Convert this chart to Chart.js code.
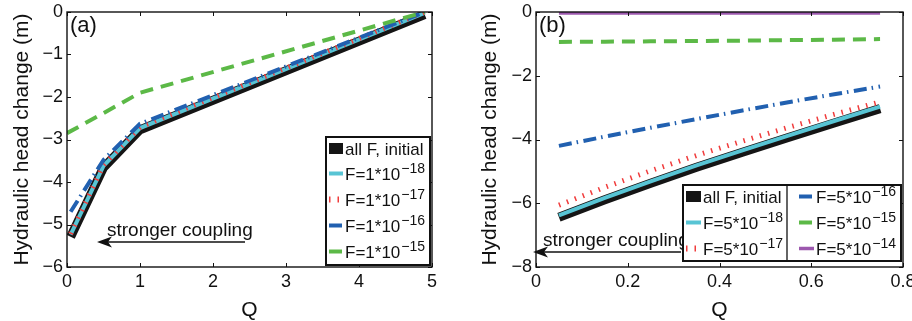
<!DOCTYPE html>
<html>
<head>
<meta charset="utf-8">
<script src="https://cdn.jsdelivr.net/npm/chart.js@4.4.0/dist/chart.umd.min.js"></script>
<style>
  body { margin: 0; background: #fff; }
  #wrapA { position: absolute; left: 0; top: 0; width: 460px; height: 321px; }
  #wrapB { position: absolute; left: 460px; top: 0; width: 452px; height: 321px; }
</style>
</head>
<body>
<div id="wrapA"><canvas id="chartA" width="460" height="321"></canvas></div>
<div id="wrapB"><canvas id="chartB" width="452" height="321"></canvas></div>
<script>
// panel (a): head change vs Q
const qA = [0.05, 0.5, 1, 4.9];
const qAGreen = [0, 0.5, 1, 4.9];
const headAInitial = [-5.29, -3.66, -2.77, -0.06];
const headA18 = [-5.24, -3.62, -2.73, -0.02];
const headA17 = [-5.22, -3.6, -2.71, 0];
const headA16 = [-4.7, -3.48, -2.63, 0];
const headA15 = [-2.85, -2.38, -1.9, 0];
const legendA = ["all F, initial", "F=1*10^\u221218", "F=1*10^\u221217", "F=1*10^\u221216", "F=1*10^\u221215"];

// panel (b)
const qB = [0.05, 0.15, 0.25, 0.35, 0.45, 0.55, 0.65, 0.75];
const headBInitial = [-6.44, -5.89, -5.37, -4.87, -4.4, -3.94, -3.48, -3.03];
const headB18 = [-6.38, -5.83, -5.31, -4.81, -4.34, -3.88, -3.42, -2.97];
const headB17 = [-6.06, -5.5, -4.98, -4.5, -4.05, -3.62, -3.21, -2.82];
const headB16 = [-4.2, -3.91, -3.63, -3.36, -3.09, -2.83, -2.58, -2.34];
const headB15 = [-0.94, -0.93, -0.92, -0.91, -0.9, -0.88, -0.87, -0.85];
const headB14 = [-0.03, -0.03, -0.03, -0.03, -0.03, -0.03, -0.03, -0.03];
const legendB = ["all F, initial", "F=5*10^\u221218", "F=5*10^\u221217", "F=5*10^\u221216", "F=5*10^\u221215", "F=5*10^\u221214"];

const FONT = '"Liberation Sans", Arial, sans-serif';
Chart.defaults.font.family = FONT;
Chart.defaults.color = "#111";

const pts = (xs, ys) => xs.map((x, i) => ({ x: x, y: ys[i] }));
const minus = v => (v < 0 ? "\u2212" + Math.abs(v) : String(v));

const styles = {
  black: { borderColor: "#151515", borderWidth: 9, legendWidth: 11 },
  cyan: { borderColor: "#58c4d4", borderWidth: 4 },
  red: { borderColor: "#f03c3c", borderWidth: 5, borderDash: [1.5, 7], legendWidth: 6 },
  blue: { borderColor: "#2160b0", borderWidth: 4, borderDash: [13, 5, 1.5, 5.5] },
  green: { borderColor: "#5cb947", borderWidth: 4, borderDash: [13, 8] },
  purple: { borderColor: "#9c58ae", borderWidth: 3.5 }
};

function line(data, st, order) {
  return Object.assign({ data: data, pointRadius: 0, tension: 0, fill: false,
    borderCapStyle: "butt", order: order }, st);
}

const decor = {
  id: "decor",
  afterDatasetsDraw(chart, args, o) {
    const { ctx, chartArea: a, scales: { x, y } } = chart;
    ctx.save();
    ctx.strokeStyle = "#111";
    ctx.lineWidth = 1;
    ctx.beginPath();
    x.ticks.forEach(t => {
      const px = Math.round(x.getPixelForValue(t.value)) + 0.5;
      ctx.moveTo(px, a.bottom); ctx.lineTo(px, a.bottom - 4);
      ctx.moveTo(px, a.top); ctx.lineTo(px, a.top + 4);
    });
    y.ticks.forEach(t => {
      const py = Math.round(y.getPixelForValue(t.value)) + 0.5;
      ctx.moveTo(a.left, py); ctx.lineTo(a.left + 4, py);
      ctx.moveTo(a.right, py); ctx.lineTo(a.right - 4, py);
    });
    ctx.stroke();
    ctx.lineWidth = 1.4;
    ctx.strokeRect(a.left, a.top, a.right - a.left, a.bottom - a.top);

    // panel letter
    ctx.fillStyle = "#111";
    ctx.font = "22px " + FONT;
    ctx.textBaseline = "alphabetic";
    ctx.fillText(o.letter.text, o.letter.x, o.letter.y);

    // arrow + text
    ctx.font = "19px " + FONT;
    ctx.fillText("stronger coupling", o.arrow.tx, o.arrow.ty);
    ctx.lineWidth = 1.3;
    ctx.beginPath();
    ctx.moveTo(o.arrow.x1, o.arrow.y);
    ctx.lineTo(o.arrow.x2 + 10, o.arrow.y);
    ctx.stroke();
    ctx.beginPath();
    ctx.moveTo(o.arrow.x2, o.arrow.y);
    ctx.lineTo(o.arrow.x2 + 15, o.arrow.y - 5.5);
    ctx.lineTo(o.arrow.x2 + 11, o.arrow.y);
    ctx.lineTo(o.arrow.x2 + 15, o.arrow.y + 5.5);
    ctx.closePath();
    ctx.fill();

    // legend
    const L = o.legend;
    ctx.fillStyle = "#fff";
    ctx.fillRect(L.x, L.y, L.w, L.h);
    ctx.strokeStyle = "#111";
    ctx.lineWidth = 2;
    ctx.strokeRect(L.x, L.y, L.w, L.h);
    if (L.divider) {
      ctx.lineWidth = 1.3;
      ctx.beginPath();
      ctx.moveTo(L.divider, L.y); ctx.lineTo(L.divider, L.y + L.h);
      ctx.stroke();
    }
    chart.data.datasets.forEach((ds, i) => {
      const col = L.cols[Math.floor(i / L.rows.length)];
      const base = L.rows[i % L.rows.length];
      const sy = base - 6.5;
      ctx.save();
      ctx.beginPath();
      ctx.setLineDash(ds.borderDash || []);
      ctx.lineCap = "butt";
      ctx.strokeStyle = ds.borderColor;
      ctx.lineWidth = ds.legendWidth || ds.borderWidth;
      ctx.moveTo(col.sx, sy); ctx.lineTo(col.sx + L.sample, sy);
      ctx.stroke();
      ctx.restore();
      const parts = L.labels[i].split("^");
      ctx.fillStyle = "#111";
      ctx.font = "17px " + FONT;
      ctx.fillText(parts[0], col.tx, base);
      if (parts[1]) {
        const w = ctx.measureText(parts[0]).width;
        ctx.font = "14px " + FONT;
        ctx.fillText(parts[1], col.tx + w + 1, base - 7.5);
      }
    });
    ctx.restore();
  }
};

function makeOptions(xMin, xMax, xStep, yMin, yMax, yStep, yWidth, yTitlePad, padRight, xFmt, deco) {
  return {
    responsive: false,
    animation: false,
    layout: { padding: { left: 0, right: padRight, top: 12, bottom: 0 } },
    plugins: { legend: { display: false }, tooltip: { enabled: false }, decor: deco },
    scales: {
      x: {
        type: "linear", min: xMin, max: xMax,
        grid: { display: false, drawTicks: false },
        border: { display: false },
        ticks: { stepSize: xStep, autoSkip: false, maxRotation: 0, padding: 4,
          font: { size: 18 }, color: "#111", callback: xFmt },
        title: { display: true, text: "Q", font: { size: 21, lineHeight: 1 },
          padding: { top: 0, bottom: 0.5 }, color: "#111" },
        afterFit: s => { s.height = 54; s.paddingLeft = 0; s.paddingRight = 0; }
      },
      y: {
        min: yMin, max: yMax,
        grid: { display: false, drawTicks: false },
        border: { display: false },
        ticks: { stepSize: yStep, autoSkip: false, padding: 4,
          font: { size: 18 }, color: "#111", callback: v => minus(v) },
        title: { display: true, text: "Hydraulic head change (m)", font: { size: 21, lineHeight: 1.2 },
          padding: { top: yTitlePad, bottom: 0 }, color: "#111" },
        afterFit: s => { s.width = yWidth; s.paddingTop = 0; s.paddingBottom = 0; }
      }
    }
  };
}

new Chart(document.getElementById("chartA"), {
  type: "line",
  data: {
    datasets: [
      line(pts(qA, headAInitial), styles.black, 10),
      line(pts(qA, headA18), styles.cyan, 9),
      line(pts(qA, headA17), styles.red, 8),
      line(pts(qA, headA16), styles.blue, 7),
      line(pts(qAGreen, headA15), styles.green, 6)
    ]
  },
  options: makeOptions(0, 5, 1, -6, 0, 1, 67, 9.4, 28, v => String(v), {
    letter: { text: "(a)", x: 70, y: 32 },
    arrow: { x1: 245, x2: 97, y: 242, tx: 107, ty: 236 },
    legend: { x: 326, y: 137, w: 104, h: 128, sample: 14, labels: legendA,
      rows: [155, 180, 206, 232, 258], cols: [{ sx: 329, tx: 345 }] }
  }),
  plugins: [decor]
});

new Chart(document.getElementById("chartB"), {
  type: "line",
  data: {
    datasets: [
      line(pts(qB, headBInitial), styles.black, 10),
      line(pts(qB, headB18), styles.cyan, 9),
      line(pts(qB, headB17), styles.red, 8),
      line(pts(qB, headB16), styles.blue, 7),
      line(pts(qB, headB15), styles.green, 6),
      line(pts(qB, headB14), styles.purple, 5)
    ]
  },
  options: makeOptions(0, 0.8, 0.2, -8, 0, 2, 76, 17.4, 9, v => String(+v.toFixed(1)), {
    letter: { text: "(b)", x: 79, y: 32 },
    arrow: { x1: 221, x2: 73, y: 252, tx: 83, ty: 246 },
    legend: { x: 223, y: 185, w: 218, h: 76, sample: 15, labels: legendB, divider: 327,
      rows: [203, 229, 255], cols: [{ sx: 226, tx: 243 }, { sx: 339, tx: 356 }] }
  }),
  plugins: [decor]
});
</script>
</body>
</html>
